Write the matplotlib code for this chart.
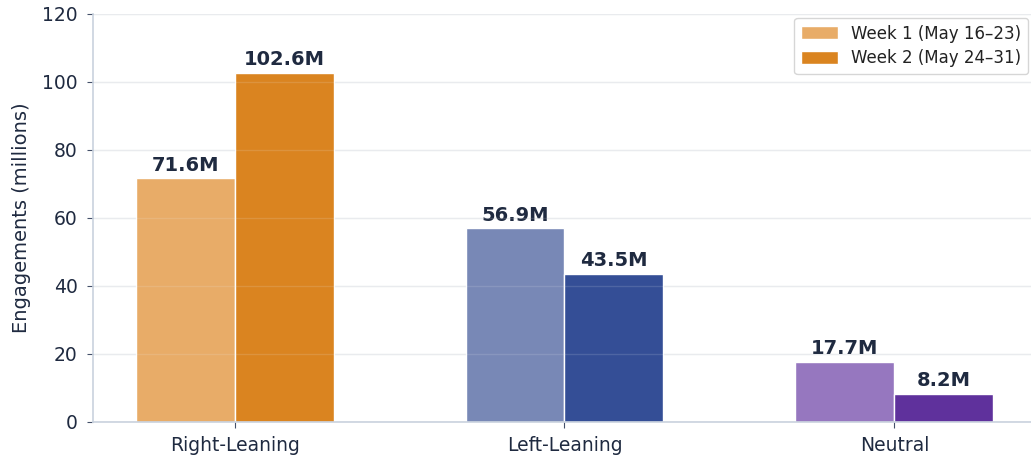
import matplotlib
matplotlib.use("Agg")
import matplotlib.pyplot as plt
import numpy as np

categories = ["Right-Leaning", "Left-Leaning", "Neutral"]
week1 = [71.6, 56.9, 17.7]
week2 = [102.6, 43.5, 8.2]
series_labels = ["Week 1 (May 16–23)", "Week 2 (May 24–31)"]
colors_w1 = ["#E8AC68", "#7888B6", "#9677BF"]
colors_w2 = ["#DA8420", "#344E96", "#5F319C"]
yticks = [0, 20, 40, 60, 80, 100, 120]

text_color = "#1F2A40"
spine_color = "#C9D2DE"

fig = plt.figure(figsize=(10.31, 4.59), dpi=100)
ax = fig.add_axes([0.090, 0.081, 0.915, 0.889])

x = np.arange(len(categories))
w = 0.3
b1 = ax.bar(x - w / 2, week1, w, color=colors_w1, edgecolor="white", linewidth=1.0,
            label=series_labels[0], zorder=2)
b2 = ax.bar(x + w / 2, week2, w, color=colors_w2, edgecolor="white", linewidth=1.0,
            label=series_labels[1], zorder=2)

for bars, vals in ((b1, week1), (b2, week2)):
    for r, v in zip(bars, vals):
        ax.annotate(f"{v:.1f}M", (r.get_x() + r.get_width() / 2, v),
                    xytext=(0, 2.5), textcoords="offset points",
                    ha="center", va="bottom", fontsize=14, fontweight="bold",
                    color=text_color)

ax.set_ylim(0, 120)
ax.set_yticks(yticks)
ax.set_xticks(x)
ax.set_xticklabels(categories)
ax.set_ylabel("Engagements (millions)", fontsize=14, color=text_color, labelpad=8)
ax.tick_params(axis="both", labelsize=13.5, colors=text_color, color="#44506A", length=4)
ax.tick_params(axis="y", pad=7)
ax.tick_params(axis="x", pad=6)
ax.yaxis.grid(True, color="#E9EBEE", linewidth=1)
ax.set_axisbelow(True)
# faint grid showing through bars
for yt in yticks[1:]:
    ax.axhline(yt, color="#E9EBEE", linewidth=1, alpha=0.15, zorder=3)
for s in ("top", "right"):
    ax.spines[s].set_visible(False)
for s in ("left", "bottom"):
    ax.spines[s].set_color(spine_color)
    ax.spines[s].set_linewidth(1.2)

leg = ax.legend(loc="upper right", fontsize=12, frameon=True, labelcolor="#222222",
                bbox_to_anchor=(0.997, 0.961), bbox_transform=fig.transFigure,
                borderaxespad=0, handlelength=2.2, handleheight=0.8, labelspacing=0.4)
leg.get_frame().set_edgecolor("#CCCCCC")

fig.savefig("out.png", dpi=100)
